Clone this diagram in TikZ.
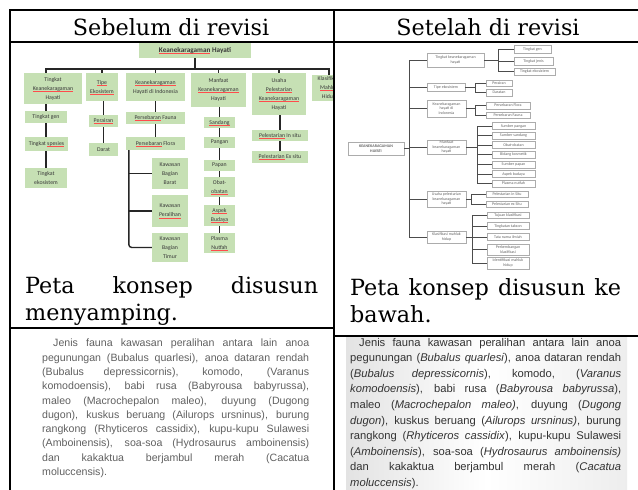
\documentclass[tikz,border=0pt]{standalone}
\usepackage{fontspec}
\setmainfont{DejaVu Serif}
\newfontfamily\carlito{Carlito}
\newfontfamily\lsans{Liberation Sans}
\definecolor{lgreen}{HTML}{C6E0B4}
\newcommand\ru[1]{\setbox0\hbox{#1}\rlap{\color{red!70}\rule[-0.9pt]{\wd0}{0.3pt}}\box0\relax}
\newcommand\gbx[6]{\node[gbox,minimum width={#4-#2},minimum height={#5-#3}] (#1) at ({(#2+#4)/2},{(#3+#5)/2}) {#6};}
\newcommand\wbx[6]{\node[wbox,minimum width={#4-#2},minimum height={#5-#3}] (#1) at ({(#2+#4)/2},{(#3+#5)/2}) {#6};}
\tikzset{
  tline/.style={line width=1.8pt,black},
  captxt/.style={inner sep=0pt,font=\fontsize{22.3}{26}\selectfont},
  gbox/.style={fill=lgreen,inner sep=0.4pt,align=center,text=black!78,font=\carlito\fontsize{5.8}{9}\selectfont},
  gline/.style={line width=1.4pt,black!85},
  wbox/.style={draw=gray!65,line width=0.45pt,fill=white,inner sep=0.3pt,align=center,text=black!60,font=\carlito\fontsize{4}{4.6}\selectfont},
  wline/.style={line width=0.7pt,black!70},
  lpar/.style={inner sep=0pt,anchor=base west,text=black!62,font=\lsans\fontsize{10.6}{14}\selectfont},
  rpar/.style={inner sep=0pt,anchor=base west,text=black!80,font=\lsans\fontsize{11.2}{15}\selectfont},
}
\begin{document}
\begin{tikzpicture}[x=1pt,y=-1pt]
\useasboundingbox (0,0) rectangle (638,490);
\fill[white] (0,0) rectangle (638,490);

% ---------- right paragraph background ----------
\shade[left color=black!11,right color=black!7,middle color=white] (346,337) rectangle (627,490);

% ---------- table lines ----------
\draw[tline] (10,10) -- (638,10);
\draw[tline] (10,9.1) -- (10,490);
\draw[tline] (334,10) -- (334,490);
\draw[tline] (10,42) -- (638,42);
\draw[tline] (10,328) -- (334,328);
\draw[tline] (334,336) -- (638,336);

% ---------- headers ----------
\node[captxt,anchor=base] (h1) at (171,35) {Sebelum di revisi};
\node[captxt,anchor=base] (h2) at (488,35) {Setelah di revisi};

% ---------- left concept map ----------
\begin{scope}
\clip (12,43) rectangle (332.9,263);
\gbx{r}{139}{43}{251}{58}{\bfseries\fontsize{7.2}{8}\selectfont\ru{Keanekaragaman} Hayati}
\gbx{t1}{24}{73}{82}{104}{Tingkat\\\ru{Keanekaragaman}\\Hayati}
\gbx{t2}{86}{73}{118}{101}{\ru{Tipe}\\\ru{Ekosistem}}
\gbx{t3}{126}{73}{185}{101}{\ru{Keanekaragaman}\\Hayati di Indonesia}
\gbx{t4}{191}{73}{246}{107}{Manfaat\\\ru{Keanekaragaman}\\Hayati}
\gbx{t5}{252}{73}{306}{115}{Usaha\\\ru{Pelestarian}\\\ru{Keanekaragaman}\\Hayati}
\gbx{t6}{312}{75}{346}{101}{Klasifikasi\\\ru{Mahluk}\\Hidup}
\gbx{a1}{25}{111}{67}{123}{Tingkat gen}
\gbx{a2}{25}{137}{68}{151}{Tingkat \ru{spesies}}
\gbx{a3}{25}{168}{67}{188}{Tingkat\\ekosistem}
\gbx{p1}{89}{115}{118}{127}{\ru{Perairan}}
\gbx{p2}{89}{143}{118}{156}{Darat}
\gbx{f1}{126}{112}{185}{124}{\ru{Persebaran} Fauna}
\gbx{f2}{126}{137}{185}{150}{\ru{Persebaran} Flora}
\gbx{k1}{152}{158}{188}{189}{Kawasan\\Bagian\\Barat}
\gbx{k2}{152}{195}{188}{227}{Kawasan\\\ru{Peralihan}}
\gbx{k3}{152}{233}{188}{262}{Kawasan\\Bagian\\Timur}
\gbx{m1}{204}{117}{235}{128}{\ru{Sandang}}
\gbx{m2}{204}{137}{235}{148}{Pangan}
\gbx{m3}{204}{160}{235}{171}{Papan}
\gbx{m4}{204}{177}{235}{197}{Obat-\\\ru{obatan}}
\gbx{m5}{204}{205}{235}{226}{\ru{Aspek}\\\ru{Budaya}}
\gbx{m6}{204}{233}{235}{253}{Plasma\\\ru{Nutfah}}
\gbx{u1}{252}{130}{308}{141}{\ru{Pelestarian} In situ}
\gbx{u2}{252}{151}{308}{163}{\ru{Pelestarian} Ex situ}
\coordinate (bus) at (0,69);
\draw[gline] (r.south) -- (r.south |- bus);
\draw[gline] (a1.north |- t1.north) -- (a1.north |- bus) -- (t6.north |- bus) -- (t6.north);
\foreach \c in {t2,t3,t4,t5} \draw[gline] (\c.north |- bus) -- (\c.north);
\draw[gline] (a1.north |- t1.south) -- (a1.north);
\draw[gline] (a1.south) -- (a1.south |- a2.north);
\draw[gline] (a1.south |- a2.south) -- (a1.south |- a3.north);
\draw[gline] (p1.north |- t2.south) -- (p1.north);
\draw[gline] (p1.south) -- (p2.north);
\draw[gline] (f1.north |- t3.south) -- (f1.north);
\draw[gline] (f1.south) -- (f2.north);
\coordinate (fv) at ([xshift=3pt]f2.south west);
\draw[gline,rounded corners=3pt] (fv) |- (k3.west);
\draw[gline] (fv |- k1.west) -- (k1.west);
\draw[gline] (fv |- k2.west) -- (k2.west);
\draw[gline] (m1.north |- t4.south) -- (m1.north);
\draw[gline] (m1.south) -- (m2.north);
\draw[gline] (m2.south) -- (m3.north);
\draw[gline] (m3.south) -- (m4.north);
\draw[gline] (m4.south) -- (m5.north);
\draw[gline] (m5.south) -- (m6.north);
\draw[gline] (u1.north |- t5.south) -- (u1.north);
\draw[gline] (u1.south) -- (u2.north);
\end{scope}

% ---------- right concept map ----------
\wbx{R}{348}{142}{404}{155}{\bfseries KEANEKARAGAMAN\\\bfseries HAYATI}
\wbx{L1}{427}{53}{484}{67}{Tingkat keanekaragaman\\hayati}
\wbx{L2}{427}{83}{465}{91}{Tipe ekosistem}
\wbx{L3}{427}{100}{466}{117}{Keanekaragaman\\hayati di\\Indonesia}
\wbx{L4}{427}{140}{466}{154}{Manfaat\\keanekaragaman\\hayati}
\wbx{L5}{427}{191}{466}{207}{Usaha pelestarian\\keanekaragaman\\hayati}
\wbx{L6}{427}{231}{466}{243}{Klasifikasi mahluk\\hidup}
\wbx{T1}{514}{45}{551}{53}{Tingkat gen}
\wbx{T2}{514}{57}{553}{65}{Tingkat jenis}
\wbx{T3}{514}{68}{555}{75}{Tingkat ekosistem}
\wbx{D1}{486}{80}{512}{86}{Perairan}
\wbx{D2}{486}{89}{512}{96}{Daratan}
\wbx{P1}{486}{102}{530}{109}{Persebaran Flora}
\wbx{P2}{486}{112}{530}{118}{Persebaran Fauna}
\wbx{M1}{492}{122.5}{535}{129.5}{Sumber pangan}
\wbx{M2}{492}{132.1}{535}{139.1}{Sumber sandang}
\wbx{M3}{492}{141.7}{535}{148.7}{Obat-obatan}
\wbx{M4}{492}{151.3}{535}{158.3}{Bidang kosmetik}
\wbx{M5}{492}{160.9}{535}{167.9}{Sumber papan}
\wbx{M6}{492}{170.5}{535}{177.5}{Aspek budaya}
\wbx{M7}{492}{180.1}{535}{187.1}{Plasma nutfah}
\wbx{U1}{486}{191}{528}{197}{Pelestarian in Situ}
\wbx{U2}{486}{201}{528}{207}{Pelestarian ex Situ}
\wbx{K1}{487}{212}{529}{218.5}{Tujuan klasifikasi}
\wbx{K2}{487}{222.5}{529}{229.5}{Tingkatan takson}
\wbx{K3}{487}{233.5}{529}{240.5}{Tata nama ilmiah}
\wbx{K4}{487}{244}{529}{255}{Perkembangan\\klasifikasi}
\wbx{K5}{487}{257}{529}{269}{Identifikasi mahluk\\hidup}
\coordinate (tr) at (409,0);
\draw[wline] (R.east) -- (R.east -| tr);
\draw[wline] (tr |- L1.west) -- (tr |- L6.west);
\foreach \n in {L1,L2,L3,L4,L5,L6} \draw[wline] (tr |- \n.west) -- (\n.west);
\coordinate (bT) at (498,0);
\draw[wline] (L1.east) -- (L1.east -| bT);
\draw[wline] (bT |- T1.west) -- (bT |- T3.west);
\foreach \n in {T1,T2,T3} \draw[wline] (bT |- \n.west) -- (\n.west);
\coordinate (bD) at (475,0);
\draw[wline] (L2.east) -- (L2.east -| bD);
\draw[wline] (bD |- D1.west) -- (bD |- D2.west);
\foreach \n in {D1,D2} \draw[wline] (bD |- \n.west) -- (\n.west);
\draw[wline] (L3.east) -- (L3.east -| bD);
\draw[wline] (bD |- P1.west) -- (bD |- P2.west);
\foreach \n in {P1,P2} \draw[wline] (bD |- \n.west) -- (\n.west);
\coordinate (bM) at (477,0);
\draw[wline] (L4.east) -- (L4.east -| bM);
\draw[wline] (bM |- M1.west) -- (bM |- M7.west);
\foreach \n in {M1,M2,M3,M4,M5,M6,M7} \draw[wline] (bM |- \n.west) -- (\n.west);
\coordinate (bU) at (471,0);
\draw[wline] (L5.east) -- (L5.east -| bU);
\draw[wline] (bU |- U1.west) -- (bU |- U2.west);
\foreach \n in {U1,U2} \draw[wline] (bU |- \n.west) -- (\n.west);
\coordinate (bK) at (472,0);
\draw[wline] (L6.east) -- (L6.east -| bK);
\draw[wline] (bK |- K1.west) -- (bK |- K5.west);
\foreach \n in {K1,K2,K3,K4,K5} \draw[wline] (bK |- \n.west) -- (\n.west);

% ---------- captions ----------
\node[captxt,anchor=base west] (c1) at (25,293) {\makebox[293pt][s]{Peta konsep disusun}};
\node[captxt,anchor=base west] (c2) at (25,320) {menyamping.};
\node[captxt,anchor=base west] (c3) at (350,295) {\makebox[271pt][s]{Peta konsep disusun ke}};
\node[captxt,anchor=base west] (c4) at (350,322) {bawah.};

% ---------- left paragraph ----------
\node[lpar] (lp1) at (53,346.8) {\makebox[256pt][s]{Jenis fauna kawasan peralihan antara lain anoa}};
\node[lpar] (lp2) at (42,361.1) {\makebox[267pt][s]{pegunungan (Bubalus quarlesi), anoa dataran rendah}};
\node[lpar] (lp3) at (42,375.4) {\makebox[267pt][s]{(Bubalus depressicornis), komodo, (Varanus}};
\node[lpar] (lp4) at (42,389.7) {\makebox[267pt][s]{komodoensis), babi rusa (Babyrousa babyrussa),}};
\node[lpar] (lp5) at (42,404.0) {\makebox[267pt][s]{maleo (Macrochepalon maleo), duyung (Dugong}};
\node[lpar] (lp6) at (42,418.3) {\makebox[267pt][s]{dugon), kuskus beruang (Ailurops ursninus), burung}};
\node[lpar] (lp7) at (42,432.6) {\makebox[267pt][s]{rangkong (Rhyticeros cassidix), kupu-kupu Sulawesi}};
\node[lpar] (lp8) at (42,446.9) {\makebox[267pt][s]{(Amboinensis), soa-soa (Hydrosaurus amboinensis)}};
\node[lpar] (lp9) at (42,461.2) {\makebox[267pt][s]{dan kakaktua berjambul merah (Cacatua}};
\node[lpar] (lp10) at (42,475.5) {moluccensis).};

% ---------- right paragraph ----------
\node[rpar] (rp1) at (359,346) {\makebox[262pt][s]{Jenis fauna kawasan peralihan antara lain anoa}};
\node[rpar] (rp2) at (350,361.6) {\makebox[271pt][s]{pegunungan (\textit{Bubalus quarlesi}), anoa dataran rendah}};
\node[rpar] (rp3) at (350,377.2) {\makebox[271pt][s]{(\textit{Bubalus} \textit{depressicornis}), komodo, (\textit{Varanus}}};
\node[rpar] (rp4) at (350,392.8) {\makebox[271pt][s]{\textit{komodoensis}), babi rusa (\textit{Babyrousa babyrussa}),}};
\node[rpar] (rp5) at (350,408.4) {\makebox[271pt][s]{maleo (\textit{Macrochepalon maleo)}, duyung (\textit{Dugong}}};
\node[rpar] (rp6) at (350,424.0) {\makebox[271pt][s]{\textit{dugon}), kuskus beruang (\textit{Ailurops ursninus)}, burung}};
\node[rpar] (rp7) at (350,439.6) {\makebox[271pt][s]{rangkong (\textit{Rhyticeros cassidix}), kupu-kupu Sulawesi}};
\node[rpar] (rp8) at (350,455.2) {\makebox[271pt][s]{(\textit{Amboinensis}), soa-soa (\textit{Hydrosaurus amboinensis)}}};
\node[rpar] (rp9) at (350,470.8) {\makebox[271pt][s]{dan kakaktua berjambul merah (\textit{Cacatua}}};
\node[rpar] (rp10) at (350,486.4) {\textit{moluccensis}).};
\end{tikzpicture}
\end{document}
